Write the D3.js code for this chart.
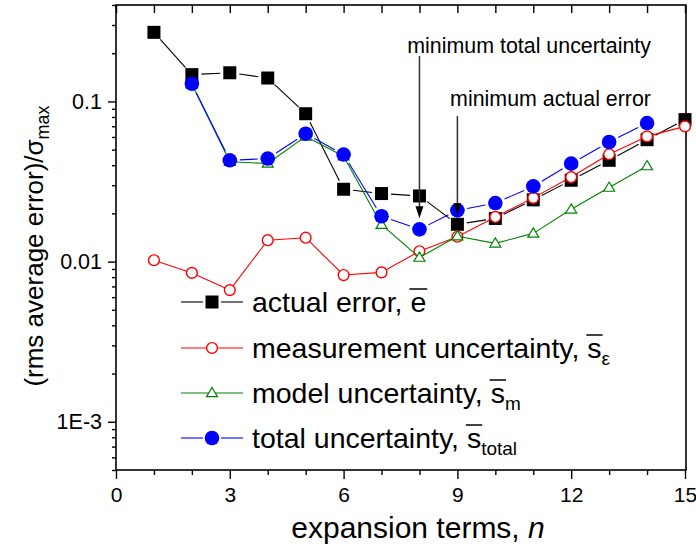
<!DOCTYPE html>
<html>
<head>
<meta charset="utf-8">
<script src="https://cdn.jsdelivr.net/npm/d3@7"></script>
<style>
  body { margin: 0; background: #fff; }
  text { font-family: "Liberation Sans", Arial, sans-serif; fill: #000; }
</style>
</head>
<body>
<svg id="chart" width="696" height="548"></svg>
<script>
// values
const terms = d3.range(1, 16);
const actualError = [0.270, 0.147, 0.151, 0.140, 0.0838, 0.0283, 0.0266, 0.0257, 0.0171, 0.0186, 0.0243, 0.0322, 0.0429, 0.0577, 0.077];
const measUnc = [0.0102, 0.0085, 0.00664, 0.0136, 0.0141, 0.00824, 0.00857, 0.0116, 0.0143, 0.0190, 0.0250, 0.0337, 0.0468, 0.0605, 0.0699];
const modelTerms = d3.range(2, 15);
const modelUnc = [0.128, 0.0420, 0.0410, 0.0605, 0.0455, 0.0170, 0.0106, 0.0144, 0.0130, 0.0150, 0.0212, 0.0290, 0.0395];
const totalUnc = [0.129, 0.0429, 0.0440, 0.0629, 0.0466, 0.0192, 0.0159, 0.0209, 0.0232, 0.0295, 0.0409, 0.0558, 0.0733];

const xMajorTicks = [0, 3, 6, 9, 12, 15];
const xMinorTicks = d3.range(0, 16).filter((d) => d % 3 !== 0);
const yMajorTicks = [0.001, 0.01, 0.1];
const yTickLabels = ['1E-3', '0.01', '0.1'];
const yMinorTicks = [5e-4, 6e-4, 7e-4, 8e-4, 9e-4, 2e-3, 3e-3, 4e-3, 5e-3, 6e-3, 7e-3, 8e-3, 9e-3,
  0.02, 0.03, 0.04, 0.05, 0.06, 0.07, 0.08, 0.09, 0.2, 0.3, 0.4];

const legendLabels = [
  { main: 'actual error, ', over: 'e', sub: null },
  { main: 'measurement uncertainty, ', over: 's', sub: 'ε' },
  { main: 'model uncertainty, ', over: 's', sub: 'm' },
  { main: 'total uncertainty, ', over: 's', sub: 'total' }
];

const svg = d3.select('#chart');
const plotLeft = 116, plotRight = 685, plotTop = 5, plotBottom = 470;

const x = d3.scaleLinear().domain([0, 15]).range([plotLeft, plotRight]);
const y = d3.scaleLog().domain([5e-4, 0.4]).range([plotBottom, plotTop]);

// axes
const fmt = (d) => yTickLabels[yMajorTicks.indexOf(d)];

svg.append('g')
  .attr('transform', `translate(0,${plotBottom})`)
  .call(d3.axisBottom(x).tickValues(xMinorTicks).tickSize(5).tickFormat(''))
  .call((g) => g.select('.domain').remove());
svg.append('g')
  .attr('transform', `translate(0,${plotBottom})`)
  .call(d3.axisBottom(x).tickValues(xMajorTicks).tickSize(9).tickPadding(8).tickFormat(d3.format('d')))
  .call((g) => g.select('.domain').remove())
  .selectAll('text').style('font-size', '21px');

svg.append('g')
  .attr('transform', `translate(0,${plotTop})`)
  .call(d3.axisBottom(x).tickValues(d3.range(0, 16)).tickSize(8).tickFormat(''))
  .call((g) => g.select('.domain').remove());

svg.append('g')
  .attr('transform', `translate(${plotLeft},0)`)
  .call(d3.axisLeft(y).tickValues(yMinorTicks).tickSize(4).tickFormat(''))
  .call((g) => g.select('.domain').remove());
svg.append('g')
  .attr('transform', `translate(${plotLeft},0)`)
  .call(d3.axisLeft(y).tickValues(yMajorTicks).tickSize(8).tickPadding(6).tickFormat(fmt))
  .call((g) => g.select('.domain').remove())
  .selectAll('text').style('font-size', '21.5px');

svg.selectAll('.tick line').attr('stroke', '#000').attr('stroke-width', 1.4);

svg.append('rect')
  .attr('x', plotLeft).attr('y', plotTop)
  .attr('width', plotRight - plotLeft + 1).attr('height', plotBottom - plotTop)
  .attr('fill', 'none').attr('stroke', '#000').attr('stroke-width', 1.6);

// axis titles
const yTitle = svg.append('text')
  .attr('transform', 'translate(43,246) rotate(-90)')
  .attr('text-anchor', 'middle')
  .style('font-size', '26px');
yTitle.append('tspan').text('(rms average error)/σ');
yTitle.append('tspan').attr('dy', 6).style('font-size', '18px').text('max');

const xTitle = svg.append('text')
  .attr('x', 418).attr('y', 538)
  .attr('text-anchor', 'middle')
  .style('font-size', '30px');
xTitle.append('tspan').text('expansion terms, ');
xTitle.append('tspan').style('font-style', 'italic').text('n');

// marks
function gappedLine(g, pts, color, gap) {
  for (let i = 1; i < pts.length; i++) {
    const [x0, y0] = pts[i - 1], [x1, y1] = pts[i];
    const len = Math.hypot(x1 - x0, y1 - y0);
    if (len <= 2 * gap) continue;
    const ux = (x1 - x0) / len, uy = (y1 - y0) / len;
    g.append('line')
      .attr('x1', x0 + ux * gap).attr('y1', y0 + uy * gap)
      .attr('x2', x1 - ux * gap).attr('y2', y1 - uy * gap)
      .attr('stroke', color).attr('stroke-width', 1.1);
  }
}

const markers = {
  square: (g, cx, cy) => g.append('rect').attr('x', cx - 6.5).attr('y', cy - 6.5)
    .attr('width', 13).attr('height', 13).attr('fill', '#000'),
  openCircle: (g, cx, cy) => g.append('circle').attr('cx', cx).attr('cy', cy).attr('r', 5.4)
    .attr('fill', '#fff').attr('stroke', '#f00').attr('stroke-width', 1.4),
  triangle: (g, cx, cy) => g.append('path')
    .attr('d', `M${cx},${cy - 5.5}L${cx + 5.5},${cy + 3.7}L${cx - 5.5},${cy + 3.7}Z`)
    .attr('fill', '#fff').attr('stroke', '#008000').attr('stroke-width', 1.2),
  dot: (g, cx, cy) => g.append('circle').attr('cx', cx).attr('cy', cy).attr('r', 7.3).attr('fill', '#0000ff')
};

const series = [
  { n: terms, v: actualError, color: '#000', gap: 9.5, marker: 'square' },
  { n: terms, v: measUnc, color: '#f00', gap: 0, marker: 'openCircle' },
  { n: modelTerms, v: modelUnc, color: '#008000', gap: 0, marker: 'triangle' },
  { n: modelTerms, v: totalUnc, color: '#0000ff', gap: 10, marker: 'dot' }
];

series.forEach((s) => {
  const g = svg.append('g');
  const pts = s.n.map((n, i) => [x(n), y(s.v[i])]);
  gappedLine(g, pts, s.color, s.gap);
  pts.forEach(([cx, cy]) => markers[s.marker](g, cx, cy));
});

// annotations
function arrow(n, tipY, fromY) {
  const ax = x(n);
  svg.append('line').attr('x1', ax).attr('x2', ax).attr('y1', fromY).attr('y2', tipY - 10)
    .attr('stroke', '#333').attr('stroke-width', 1.5);
  svg.append('path')
    .attr('d', `M${ax - 4},${tipY - 12}L${ax + 4},${tipY - 12}L${ax},${tipY}Z`)
    .attr('fill', '#000');
}
svg.append('text').attr('x', 651).attr('y', 53).attr('text-anchor', 'end')
  .style('font-size', '21.4px').text('minimum total uncertainty');
arrow(8, y(totalUnc[modelTerms.indexOf(8)]) - 11, 56);
svg.append('text').attr('x', 651).attr('y', 106).attr('text-anchor', 'end')
  .style('font-size', '21.4px').text('minimum actual error');
arrow(9, y(actualError[terms.indexOf(9)]) - 9, 116);

// legend
const legendRows = [302, 348, 393, 438];
legendLabels.forEach((lab, i) => {
  const s = series[i];
  const g = svg.append('g');
  const ly = legendRows[i];
  if (s.gap > 0) {
    g.append('line').attr('x1', 181).attr('x2', 203).attr('y1', ly).attr('y2', ly).attr('stroke', s.color).attr('stroke-width', 1.1);
    g.append('line').attr('x1', 221).attr('x2', 243).attr('y1', ly).attr('y2', ly).attr('stroke', s.color).attr('stroke-width', 1.1);
  } else {
    g.append('line').attr('x1', 181).attr('x2', 243).attr('y1', ly).attr('y2', ly).attr('stroke', s.color).attr('stroke-width', 1.1);
  }
  markers[s.marker](g, 212, ly);

  const t = g.append('text').attr('x', 252).attr('y', ly + 10).style('font-size', '28.5px');
  t.append('tspan').text(lab.main + lab.over);
  if (lab.sub) t.append('tspan').attr('dy', 7).style('font-size', '19px').text(lab.sub);
  const idx = lab.main.length;
  const node = t.node();
  const x0 = node.getStartPositionOfChar(idx).x;
  const x1 = node.getEndPositionOfChar(idx).x;
  g.append('line').attr('x1', x0 - 1).attr('x2', x1 + 1)
    .attr('y1', ly + 10 - 23).attr('y2', ly + 10 - 23)
    .attr('stroke', '#000').attr('stroke-width', 1.5);
});
</script>
</body>
</html>
